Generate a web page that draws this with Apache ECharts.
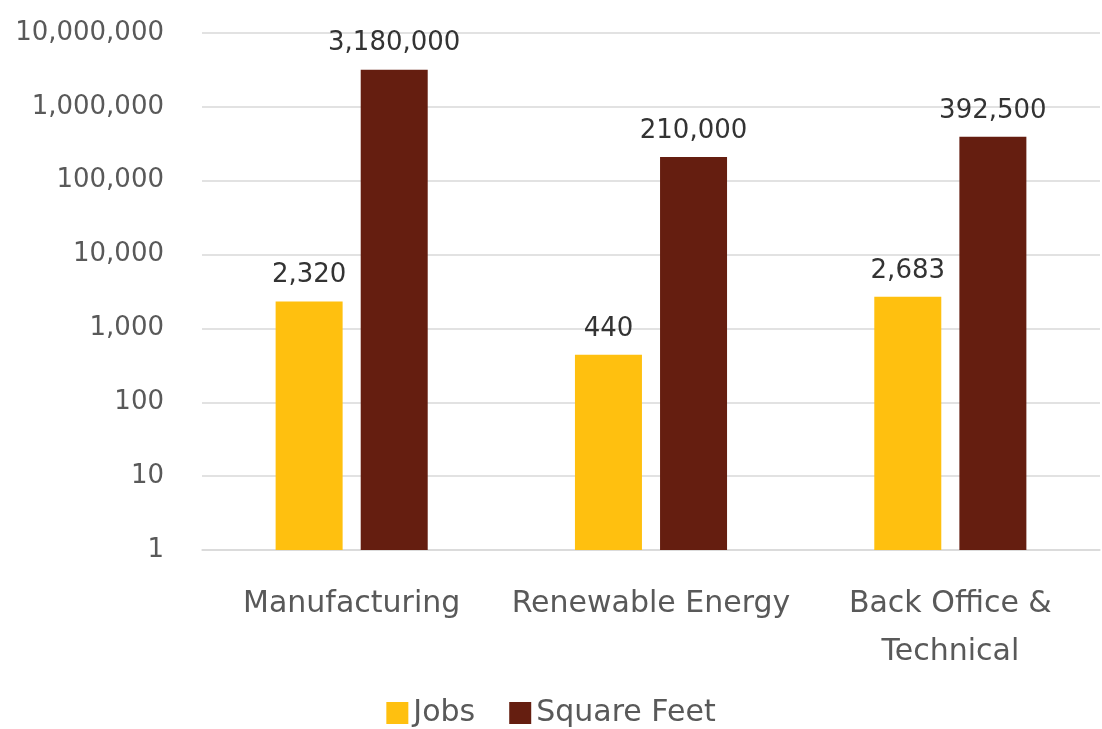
<!DOCTYPE html>
<html>
<head>
<meta charset="utf-8">
<script src="https://cdn.jsdelivr.net/npm/echarts@6/dist/echarts.min.js"></script>
<style>
  html, body { margin: 0; padding: 0; background: #fff; }
  #chart { width: 1102px; height: 729px; }
</style>
</head>
<body>
<div id="chart"></div>
<script>
const categories = ['Manufacturing', 'Renewable Energy', 'Back Office &\nTechnical']
const jobs = [2320, 440, 2683]
const squareFeet = [3180000, 210000, 392500]

const fmt = v => Number(v).toLocaleString('en-US')
const font = '"DejaVu Sans", sans-serif'

const chart = echarts.init(document.getElementById('chart'))

chart.setOption({
  animation: false,
  textStyle: { fontFamily: font },
  grid: {
    left: 202,
    right: 2,
    top: 33,
    bottom: 179
  },
  legend: {
    bottom: -4,
    left: 'center',
    itemWidth: 22,
    itemHeight: 22,
    itemGap: 34,
    icon: 'rect',
    textStyle: { fontSize: 30, color: '#595959', fontFamily: font }
  },
  xAxis: {
    type: 'category',
    data: categories,
    axisLine: { lineStyle: { color: '#d9d9d9', width: 1.5 } },
    axisTick: { show: false },
    axisLabel: {
      interval: 0,
      fontSize: 30,
      color: '#595959',
      margin: 30,
      lineHeight: 48,
      fontFamily: font
    }
  },
  yAxis: {
    type: 'log',
    logBase: 10,
    min: 1,
    max: 10000000,
    axisLine: { show: false },
    axisTick: { show: false },
    splitLine: { lineStyle: { color: '#d9d9d9', width: 1.5 } },
    axisLabel: {
      fontSize: 26,
      color: '#595959',
      margin: 38,
      formatter: fmt,
      fontFamily: font
    }
  },
  series: [{
    name: 'Jobs',
    type: 'bar',
    data: jobs,
    barWidth: 67,
    barGap: '27%',
    itemStyle: { color: '#FFC00F' },
    label: {
      show: true,
      position: 'top',
      distance: 13,
      fontSize: 26,
      color: '#333333',
      formatter: p => fmt(p.value),
      fontFamily: font
    }
  }, {
    name: 'Square Feet',
    type: 'bar',
    data: squareFeet,
    barWidth: 67,
    itemStyle: { color: '#651E10' },
    label: {
      show: true,
      position: 'top',
      distance: 13,
      fontSize: 26,
      color: '#333333',
      formatter: p => fmt(p.value),
      fontFamily: font
    }
  }]
})
</script>
</body>
</html>
